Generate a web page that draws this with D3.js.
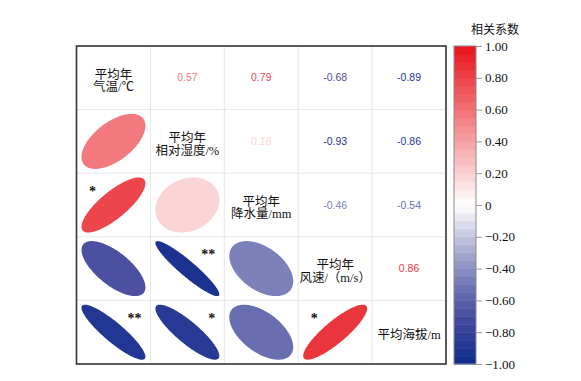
<!DOCTYPE html>
<html><head><meta charset="utf-8">
<script src="https://cdn.jsdelivr.net/npm/d3@7"></script>
<style>
html,body{margin:0;padding:0;background:#fff;}
svg{display:block;}
</style></head>
<body>
<svg id="chart" width="581" height="381"></svg>
<script>
// ---- data ----
const variables = ["T", "RH", "P", "W", "ALT"];
const diagLabels = [
  ["平均年", "气温/℃"],
  ["平均年", "相对湿度/%"],
  ["平均年", "降水量/mm"],
  ["平均年", "风速/（m/s）"],
  ["平均海拔/m"]
];
// pairs (row variable, column variable) with correlation and significance
const pairRow  = ["RH", "P", "P", "W", "W", "W", "ALT", "ALT", "ALT", "ALT"];
const pairCol  = ["T", "T", "RH", "T", "RH", "P", "T", "RH", "P", "W"];
const pairR    = [0.57, 0.79, 0.18, -0.68, -0.93, -0.46, -0.89, -0.86, -0.54, 0.86];
const pairSig  = ["", "*", "", "", "**", "", "**", "*", "", "*"];
const legendTicks = [1, 0.8, 0.6, 0.4, 0.2, 0, -0.2, -0.4, -0.6, -0.8, -1];
const legendTitle = "相关系数";

// ---- layout ----
const svg = d3.select("#chart");
const frame = {x0: 76.5, x1: 446, y0: 46, y1: 364};
const x = d3.scaleBand().domain(variables).range([frame.x0, frame.x1]);
const y = d3.scaleBand().domain(variables).range([frame.y0, frame.y1]);

const color = d3.scaleLinear()
  .domain([-1, -0.7, -0.5, -0.25, 0, 1])
  .range(["#0d2a8c", "#474c9e", "#7177b4", "#b4b7d8", "#ffffff", "#e8141c"])
  .clamp(true);

const serif = "'Liberation Serif','Noto Sans CJK SC',serif";
const sans = "'Liberation Sans',Arial,sans-serif";

// grid
const grid = svg.append("g");
variables.slice(1).forEach(v => {
  grid.append("line").attr("x1", x(v)).attr("x2", x(v))
    .attr("y1", frame.y0).attr("y2", frame.y1)
    .attr("stroke", "#e6e6e6").attr("stroke-width", 1);
  grid.append("line").attr("y1", y(v)).attr("y2", y(v))
    .attr("x1", frame.x0).attr("x2", frame.x1)
    .attr("stroke", "#e6e6e6").attr("stroke-width", 1);
});

// ellipses (lower triangle)
const k = 0.865;
const tVals = d3.range(0, 2 * Math.PI + 0.001, Math.PI / 90);
const g = svg.append("g");
pairR.forEach((r, i) => {
  const cx = x(pairCol[i]), cy = y(pairRow[i]);
  const bw = x.bandwidth(), bh = y.bandwidth();
  const sx = d3.scaleLinear().domain([-1, 1]).range([cx + bw * (1 - k) / 2, cx + bw * (1 + k) / 2]);
  const sy = d3.scaleLinear().domain([-1, 1]).range([cy + bh * (1 + k) / 2, cy + bh * (1 - k) / 2]);
  const d = Math.acos(r);
  const line = d3.line()
    .x(t => sx(Math.cos(t + d / 2)))
    .y(t => sy(Math.cos(t - d / 2)))
    .curve(d3.curveLinearClosed);
  g.append("path").attr("d", line(tVals)).attr("fill", color(r));
  // significance stars
  if (pairSig[i]) {
    const txt = g.append("text").text(pairSig[i])
      .attr("font-family", serif).attr("font-weight", "bold")
      .attr("font-size", 14).attr("fill", "#111")
      .attr("y", cy + 22.5);
    if (r > 0) {
      txt.attr("x", cx + 16).attr("text-anchor", "middle");
    } else {
      txt.attr("x", cx + bw - 9).attr("text-anchor", "end");
    }
  }
  // upper triangle numbers
  svg.append("text")
    .attr("x", x(pairRow[i]) + bw / 2)
    .attr("y", y(pairCol[i]) + bh / 2)
    .attr("dy", "0.35em")
    .attr("text-anchor", "middle")
    .attr("font-family", sans).attr("font-size", 10.5)
    .attr("fill", color(r))
    .text(d3.format(".2f")(r).replace("−", "-"));
});

// diagonal labels
variables.forEach((v, i) => {
  const lines = diagLabels[i];
  const cx = x(v) + x.bandwidth() / 2;
  const cy = y(v) + y.bandwidth() / 2 + 2.5;
  const lh = 12.5;
  const t = svg.append("text")
    .attr("text-anchor", "middle")
    .attr("font-family", serif).attr("font-size", 12.5)
    .attr("fill", "#111");
  lines.forEach((s, j) => {
    t.append("tspan").attr("x", cx)
      .attr("y", cy + (j - (lines.length - 1) / 2) * lh)
      .attr("dy", "0.36em").text(s);
  });
});

// frame
svg.append("rect")
  .attr("x", frame.x0).attr("y", frame.y0)
  .attr("width", frame.x1 - frame.x0).attr("height", frame.y1 - frame.y0)
  .attr("fill", "none").attr("stroke", "#333").attr("stroke-width", 1.6);

// ---- colour legend ----
const lg = {x: 454, w: 22, y0: 46, y1: 364};
const ly = d3.scaleLinear().domain([1, -1]).range([lg.y0, lg.y1]);
const bands = d3.range(-1, 1, 0.05);
svg.append("g").selectAll("rect").data(bands).join("rect")
  .attr("x", lg.x).attr("width", lg.w)
  .attr("y", d => ly(d + 0.05)).attr("height", d => ly(d) - ly(d + 0.05) + 0.5)
  .attr("fill", d => color(d + 0.025));
svg.append("rect")
  .attr("x", lg.x).attr("y", lg.y0).attr("width", lg.w).attr("height", lg.y1 - lg.y0)
  .attr("fill", "none").attr("stroke", "#8a8a8a").attr("stroke-width", 1);

const axis = d3.axisRight(ly).tickValues(legendTicks).tickSize(6).tickPadding(3)
  .tickFormat(v => v === 0 ? "0" : (v < 0 ? "\u2212" : "") + Math.abs(v).toFixed(2));
const ag = svg.append("g").attr("transform", `translate(${lg.x + lg.w},0)`).call(axis);
ag.select(".domain").remove();
ag.selectAll(".tick line").attr("stroke", "#999");
ag.selectAll(".tick text").attr("font-family", serif).attr("font-size", 13).attr("fill", "#111");

svg.append("text").attr("x", 495).attr("y", 30).attr("dy", "0.35em")
  .attr("text-anchor", "middle").attr("font-family", serif).attr("font-size", 12)
  .attr("fill", "#111").text(legendTitle);
</script>
</body></html>
